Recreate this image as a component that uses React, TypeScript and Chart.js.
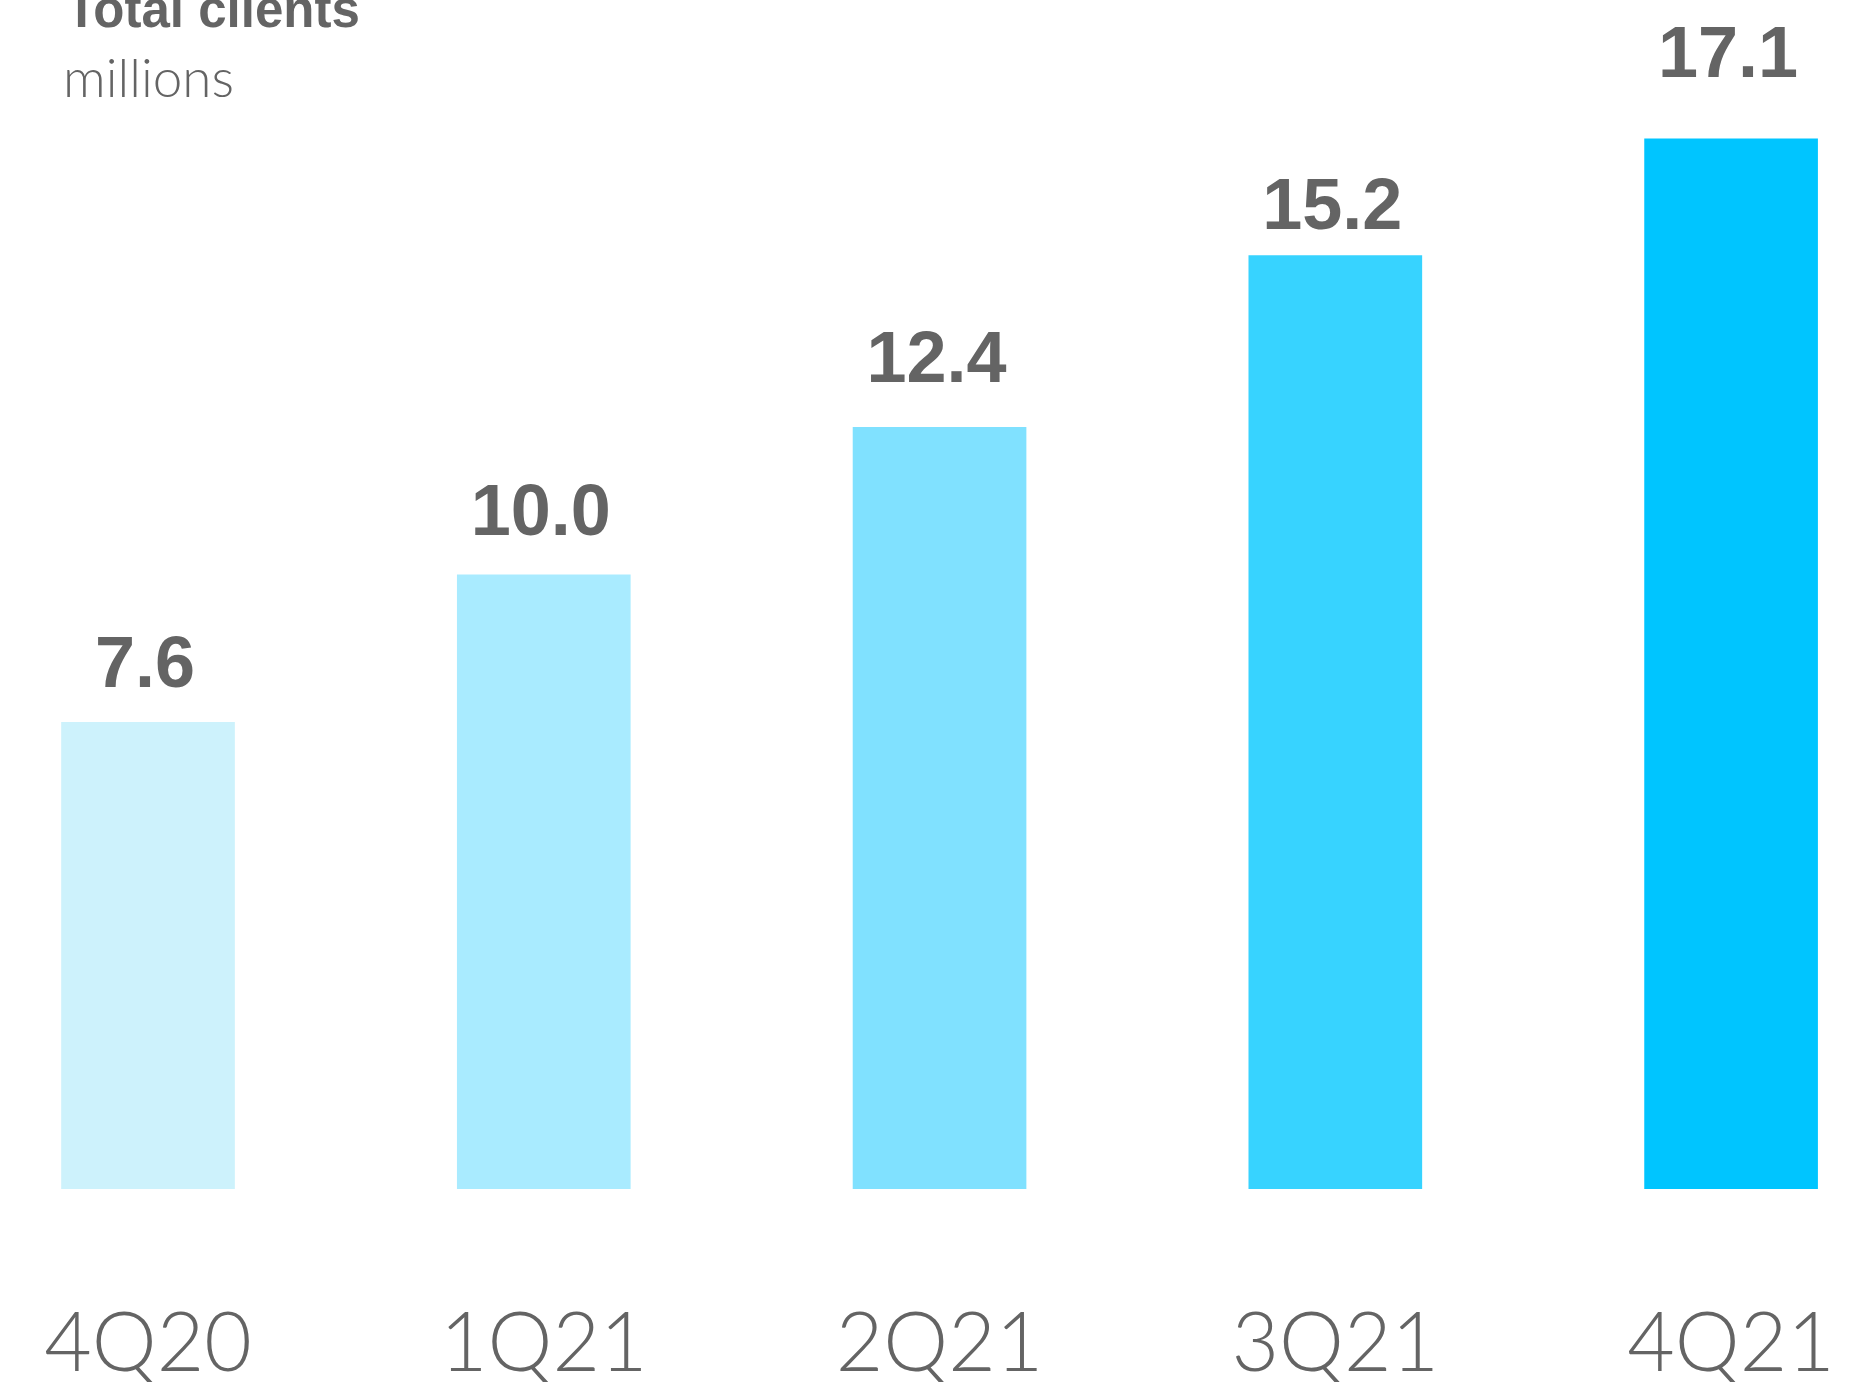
import React, { useEffect, useRef } from "react";
import { Chart, registerables } from "chart.js";

Chart.register(...registerables);

const categories = ["4Q20", "1Q21", "2Q21", "3Q21", "4Q21"];
const totalClients = [7.6, 10.0, 12.4, 15.2, 17.1];
const barColors = ["#CDF2FC", "#A9EBFF", "#80E1FF", "#37D3FF", "#00C5FF"];
const titleText = "Total clients";
const subtitleText = "millions";

const TEXT = "#646464";

const labelsPlugin = {
  id: "valueLabels",
  afterDatasetsDraw(chart: any) {
    const ctx = chart.ctx;
    const meta = chart.getDatasetMeta(0);
    const n = meta.data.length;
    const yFirst = meta.data[0].y - 35;
    const yLast = meta.data[n - 1].y - 62;
    ctx.save();
    ctx.fillStyle = TEXT;
    ctx.textAlign = "center";
    ctx.textBaseline = "alphabetic";
    ctx.font = "bold 72px 'Liberation Sans', Arial, sans-serif";
    meta.data.forEach((bar: any, i: number) => {
      const y = yFirst + ((yLast - yFirst) * i) / (n - 1);
      ctx.fillText(totalClients[i].toFixed(1), bar.x - 3, y);
    });
    ctx.font = "bold 51px 'Liberation Sans', Arial, sans-serif";
    ctx.textAlign = "left";
    ctx.fillText(titleText, 66, 27);
    ctx.font = "300 53px Lato, 'Liberation Sans', sans-serif";
    ctx.fillText(subtitleText, 63, 97);
    ctx.restore();
  },
};

export default function App() {
  const ref = useRef<HTMLCanvasElement | null>(null);
  useEffect(() => {
    if (!ref.current) return;
    const chart = new Chart(ref.current, {
      type: "bar",
      data: {
        datasets: [
          {
            data: totalClients.map((v, i) => ({ x: i, y: v })),
            backgroundColor: barColors,
            borderWidth: 0,
            barThickness: 173,
          },
        ],
      },
      options: {
        animation: false,
        responsive: true,
        maintainAspectRatio: false,
        layout: { padding: 0 },
        plugins: { legend: { display: false }, tooltip: { enabled: false }, title: { display: false } },
        scales: {
          x: {
            type: "linear",
            offset: false,
            min: -0.374,
            max: 4.351,
            grid: { display: false, drawTicks: false, offset: false },
            border: { display: false },
            afterBuildTicks: (scale: any) => {
              scale.ticks = categories.map((_, i) => ({ value: i }));
            },
            afterFit: (scale: any) => {
              scale.height = 193;
              scale.paddingLeft = 0;
              scale.paddingRight = 0;
              scale.paddingTop = 0;
              scale.paddingBottom = 0;
            },
            ticks: {
              autoSkip: false,
              maxRotation: 0,
              padding: 106,
              color: TEXT,
              font: { family: "Lato, 'Liberation Sans', sans-serif", size: 82, weight: "300" as any },
              callback: (v: any) => categories[Math.round(Number(v))] ?? "",
            },
          },
          y: {
            display: false,
            min: 0,
            max: 19.36,
          },
        },
      },
      plugins: [labelsPlugin],
    });
    return () => chart.destroy();
  }, []);
  return (
    <div style={{ position: "absolute", left: 0, top: 0, width: 1870, height: 1382, background: "#fff" }}>
      <canvas ref={ref} />
    </div>
  );
}
